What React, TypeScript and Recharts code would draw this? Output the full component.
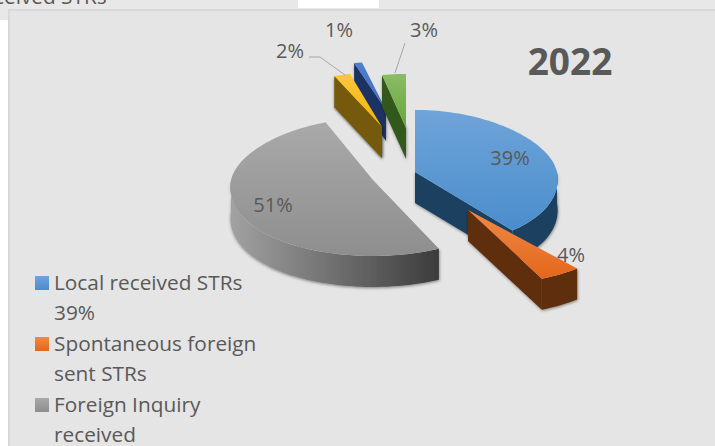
import React from "react";
import { PieChart, Pie, Legend } from "recharts";

const WIDTH = 715;
const HEIGHT = 446;
const FONT = "'Open Sans', sans-serif";
const TEXT = "#595959";

// Data
const categories = [
  "Local received STRs 39%",
  "Spontaneous foreign sent STRs",
  "Foreign Inquiry received",
  "Category 4",
  "Category 5",
  "Category 6",
];
const shares = [39, 4, 51, 2, 1, 3];
const legendCount = 3;
const legendLines = [
  ["Local received STRs", "39%"],
  ["Spontaneous foreign", "sent STRs"],
  ["Foreign Inquiry", "received"],
];
const pieData = categories.map((name, i) => ({ name, value: shares[i] }));

// Drawing style per slice (explosion, perspective scale, colours, label offset from the apex)
const sliceStyles = [
  { dx: 20, dy: 2, sx: 1, sy: 1, top: ["#6fa4d9", "#4a8dcc"], side: ["#1d3f60", "#1d3f60"], lx: 95, ly: -15 },
  { dx: 73, dy: 40, sx: 1.12, sy: 1, top: ["#ef8a47", "#e4661b"], side: ["#5e2d0c", "#5e2d0c"], lx: 103, ly: 44 },
  { dx: -22, dy: 10, sx: 1, sy: 1, top: ["#a9a9a9", "#8e8e8e"], side: ["#a2a2a2", "#3c3c3c"], lx: -100, ly: 24 },
  { dx: -13, dy: -43, sx: 1, sy: 0.88, top: ["#fdc53f", "#f2b600"], side: ["#745a08", "#6a5200"], lx: -92, ly: -77, leader: [[-73, -70], [-62, -70], [-37, -52]] },
  { dx: -9, dy: -60, sx: 1, sy: 0.78, top: ["#4f7fcf", "#3f6cbc"], side: ["#1c3264", "#1a2e5c"], lx: -47, ly: -81 },
  { dx: 11, dy: -42, sx: 1, sy: 0.87, top: ["#8abc66", "#68a63c"], side: ["#33591c", "#2c5012"], lx: 18, ly: -99, leader: [[-1, -85], [-11, -55]] },
];
const overlaySliceIndex = 3;

const CX = 395;
const CY = 170;
const RADIUS = 142;
const DEPTH = 31;
const BACK = 0.437;
const FRONT = 0.535;
const PERSPECTIVE = 0.1;

const project = (deg: number, r: number, s: any) => {
  const a = (deg * Math.PI) / 180;
  const c = Math.cos(a);
  const x = r * Math.sin(a) * (1 - PERSPECTIVE * c) * s.sx;
  const y = -c * r * (c > 0 ? BACK : FRONT) * s.sy;
  return [x, y];
};

const arcPoints = (from: number, to: number, r: number, s: any) => {
  const pts: number[][] = [];
  const n = Math.max(2, Math.ceil((to - from) / 2));
  for (let i = 0; i <= n; i++) pts.push(project(from + ((to - from) * i) / n, r, s));
  return pts;
};

const toPath = (pts: number[][]) =>
  "M" + pts.map((p) => `${p[0].toFixed(2)},${p[1].toFixed(2)}`).join("L") + "Z";

const sliceIndex = (props: any) => categories.indexOf(props.name ?? props.payload?.name);

const Slice3D = (props: any) => {
  const { startAngle, endAngle, outerRadius, cx, cy } = props;
  const idx = sliceIndex(props);
  const s: any = sliceStyles[idx];
  const from = 90 - startAngle;
  const to = 90 - endAngle;
  const r = outerRadius;
  const topPts = arcPoints(from, to, r, s);
  const wFrom = Math.max(from, 90);
  const wTo = Math.min(to, 270);
  const id = `slice-${idx}`;
  const shift = (pts: number[][]) => pts.map((p) => [p[0], p[1] + DEPTH]);
  const face = (deg: number) => {
    const p = project(deg, r, s);
    return toPath([[0, 0], p, [p[0], p[1] + DEPTH], [0, DEPTH]]);
  };
  const startVisible = Math.sin((from * Math.PI) / 180) < -0.01;
  const endVisible = Math.sin((to * Math.PI) / 180) > 0.01;
  return (
    <g transform={`translate(${cx + s.dx},${cy + s.dy})`}>
      <defs>
        <linearGradient id={`${id}-top`} x1="0" y1="0" x2="0" y2="1">
          <stop offset="0" stopColor={s.top[0]} />
          <stop offset="1" stopColor={s.top[1]} />
        </linearGradient>
        <linearGradient id={`${id}-side`} x1="0" y1="0" x2="1" y2="0">
          <stop offset="0" stopColor={s.side[0]} />
          <stop offset="1" stopColor={s.side[1]} />
        </linearGradient>
        <filter id={`${id}-shadow`} x="-20%" y="-20%" width="140%" height="140%">
          <feDropShadow dx="0.5" dy="1" stdDeviation="1.4" floodColor="#000" floodOpacity="0.45" />
        </filter>
      </defs>
      <g filter={`url(#${id}-shadow)`}>
        {startVisible && <path d={face(from)} fill={s.side[0]} />}
        {endVisible && <path d={face(to)} fill={s.side[1]} />}
        {wTo > wFrom && (() => {
          const arc = arcPoints(wFrom, wTo, r, s);
          return <path d={toPath([...arc, ...shift(arc).reverse()])} fill={`url(#${id}-side)`} />;
        })()}
      </g>
      <path d={toPath([[0, 0], ...topPts])} fill={`url(#${id}-top)`} />
    </g>
  );
};

// The small yellow slice sits in front of its neighbour: it is painted again on a second layer.
const OverlaySlice = (props: any) =>
  sliceIndex(props) === overlaySliceIndex ? <Slice3D {...props} /> : <g />;

const renderLabel = (props: any) => {
  const idx = sliceIndex(props);
  const s: any = sliceStyles[idx];
  const ax = CX + s.dx;
  const ay = CY + s.dy;
  return (
    <g key={`label-${idx}`}>
      {s.leader && (
        <polyline
          points={s.leader.map((p: number[]) => `${ax + p[0]},${ay + p[1]}`).join(" ")}
          fill="none"
          stroke="#a6a6a6"
          strokeWidth={1}
        />
      )}
      <text
        x={ax + s.lx}
        y={ay + s.ly}
        textAnchor="middle"
        dominantBaseline="central"
        fontFamily={FONT}
        fontSize={20}
        fill={TEXT}
      >
        {shares[idx]}%
      </text>
    </g>
  );
};

const renderLegend = () => (
  <div style={{ fontFamily: FONT, fontSize: 20.8, lineHeight: "29.5px", color: TEXT }}>
    {legendLines.slice(0, legendCount).map((lines, i) => {
      const s = sliceStyles[i];
      return (
        <div key={i} style={{ position: "relative", paddingLeft: 19, height: 61, whiteSpace: "nowrap" }}>
          <span
            style={{
              position: "absolute",
              left: 0,
              top: 8,
              width: 14,
              height: 14,
              background: `linear-gradient(${s.top[0]}, ${s.top[1]})`,
            }}
          />
          {lines.map((t) => (
            <div key={t}>{t}</div>
          ))}
        </div>
      );
    })}
  </div>
);

export default function App() {
  return (
    <div style={{ position: "fixed", left: 0, top: 0, width: WIDTH, height: HEIGHT, overflow: "hidden", background: "#ffffff" }}>
      {/* strip of the page above the chart */}
      <div style={{ position: "absolute", left: 0, top: 0, width: WIDTH, height: 20, background: "#e8e8e8" }} />
      <div style={{ position: "absolute", left: 298, top: 0, width: 81, height: 8, background: "#ffffff" }} />
      <div style={{ position: "absolute", left: -6, top: -18, fontFamily: FONT, fontSize: 20.8, lineHeight: "29px", color: TEXT, whiteSpace: "nowrap" }}>
        ceived STRs
      </div>
      {/* chart panel */}
      <div style={{ position: "absolute", left: 8, top: 9, width: WIDTH, height: HEIGHT, background: "#e5e5e5", borderLeft: "2px solid #d9d9d9", borderTop: "2px solid #d9d9d9" }} />
      <div style={{ position: "absolute", left: 0, top: 0 }}>
        <PieChart width={WIDTH} height={HEIGHT} margin={{ top: 0, right: 0, bottom: 0, left: 0 }}>
          <Legend
            layout="horizontal"
            verticalAlign="bottom"
            content={renderLegend}
            wrapperStyle={{ position: "absolute", left: 35, top: 268, width: 260, height: 178, bottom: "auto", overflow: "hidden" }}
          />
          <Pie
            data={pieData}
            dataKey="value"
            nameKey="name"
            cx={CX}
            cy={CY}
            innerRadius={0}
            outerRadius={RADIUS}
            startAngle={90}
            endAngle={-270}
            stroke="none"
            isAnimationActive={false}
            shape={Slice3D}
            label={renderLabel}
            labelLine={false}
          />
          <Pie
            data={pieData}
            dataKey="value"
            nameKey="name"
            cx={CX}
            cy={CY}
            innerRadius={0}
            outerRadius={RADIUS}
            startAngle={90}
            endAngle={-270}
            stroke="none"
            isAnimationActive={false}
            shape={OverlaySlice}
            label={false}
            labelLine={false}
          />
        </PieChart>
      </div>
      <div style={{ position: "absolute", left: 470, top: 36, width: 200, textAlign: "center", fontFamily: FONT, fontWeight: 700, fontSize: 37, lineHeight: "50px", color: TEXT }}>
        2022
      </div>
    </div>
  );
}
